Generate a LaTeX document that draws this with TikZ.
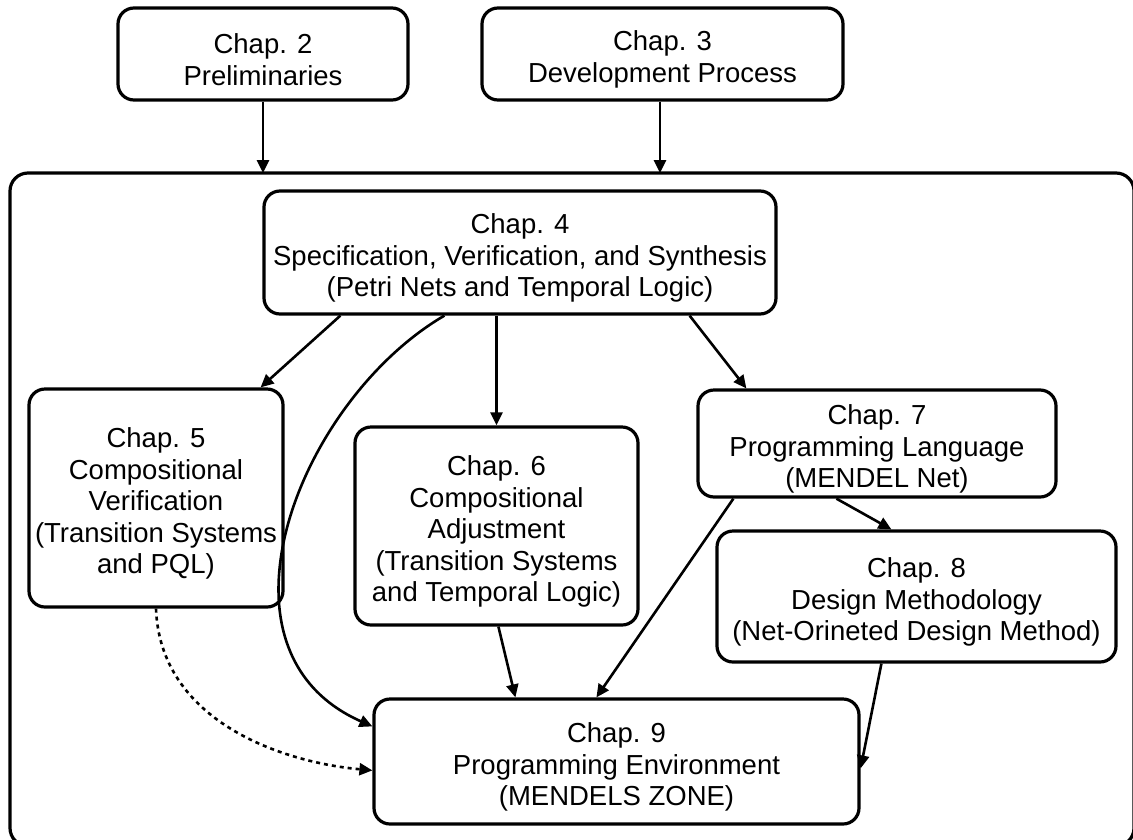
\documentclass[tikz,border=0pt]{standalone}
\usepackage{fontspec}
\setmainfont{Liberation Sans}
\usetikzlibrary{arrows.meta}
\begin{document}
\begin{tikzpicture}[x=1pt,y=-1pt,
  chapbox/.style={draw, line width=3.2pt, rounded corners=16pt, inner sep=0pt},
  chaptext/.style={align=center, inner sep=0pt, yshift=-5.5pt,
    font=\fontsize{27.5}{31.5}\selectfont},
  link/.style={line width=2.6pt, -{Triangle[length=13pt,width=12pt]}},
  dotlink/.style={link, dash pattern=on 4pt off 4pt}]
\useasboundingbox (0,0) rectangle (1133,839);
\clip (0,0) rectangle (1133,839);

% enclosing frame around chapters 4--9
\draw[line width=3.2pt, rounded corners=18pt] (10,173) rectangle (1134,846);

\node[chapbox, minimum width=290pt, minimum height=92pt,
  label={[chaptext]center:{Chap. 2\\Preliminaries}}] (c2) at (263,54) {};
\node[chapbox, minimum width=361pt, minimum height=92pt,
  label={[chaptext]center:{Chap. 3\\Development Process}}] (c3) at (662.5,54) {};
\node[chapbox, minimum width=512pt, minimum height=123pt,
  label={[chaptext]center:{Chap. 4\\Specification, Verification, and Synthesis\\(Petri Nets and Temporal Logic)}}]
  (c4) at (520,252.5) {};
\node[chapbox, minimum width=254pt, minimum height=218pt,
  label={[chaptext]center:{Chap. 5\\Compositional\\Verification\\(Transition Systems\\and PQL)}}]
  (c5) at (156,498) {};
\node[chapbox, minimum width=283pt, minimum height=198pt,
  label={[chaptext]center:{Chap. 6\\Compositional\\Adjustment\\(Transition Systems\\and Temporal Logic)}}]
  (c6) at (496.5,526) {};
\node[chapbox, minimum width=358pt, minimum height=107pt,
  label={[chaptext]center:{Chap. 7\\Programming Language\\(MENDEL Net)}}]
  (c7) at (877,443.5) {};
\node[chapbox, minimum width=399pt, minimum height=131pt,
  label={[chaptext]center:{Chap. 8\\Design Methodology\\(Net-Orineted Design Method)}}]
  (c8) at (916.5,596.5) {};
\node[chapbox, minimum width=485pt, minimum height=125pt,
  label={[chaptext]center:{Chap. 9\\Programming Environment\\(MENDELS ZONE)}}]
  (c9) at (616.5,761.5) {};

% entry points on the enclosing frame
\coordinate (in2) at (263,173);
\coordinate (in3) at (660,173);
\draw[link] (c2.south) -- (in2);
\draw[link] ([xshift=-2.5pt]c3.south) -- (in3);

\draw[link] ([xshift=78pt]c4.south west) -- ([xshift=-24pt]c5.north east);
\draw[link] ([xshift=182pt]c4.south west)
  .. controls (300,400) and (200,650) .. ([yshift=-29pt]c9.north west);
\draw[link] (c4.south -| c6.north) -- (c6.north);
\draw[link] ([xshift=-88pt]c4.south east) -- ([xshift=50pt]c7.north west);
\draw[link] ([xshift=140pt]c7.south west) -- ([xshift=176pt]c8.north west);
\draw[link] ([xshift=37pt]c7.south west) -- ([xshift=224pt]c9.north west);
\draw[link] ([xshift=145pt]c6.south west) -- ([xshift=143pt]c9.north west);
\draw[link] ([xshift=166pt]c8.south west) -- ([yshift=-71pt]c9.north east);
\draw[dotlink] (c5.south)
  .. controls (160,720) and (280,762) .. ([yshift=-73pt]c9.north west);
\end{tikzpicture}
\end{document}
